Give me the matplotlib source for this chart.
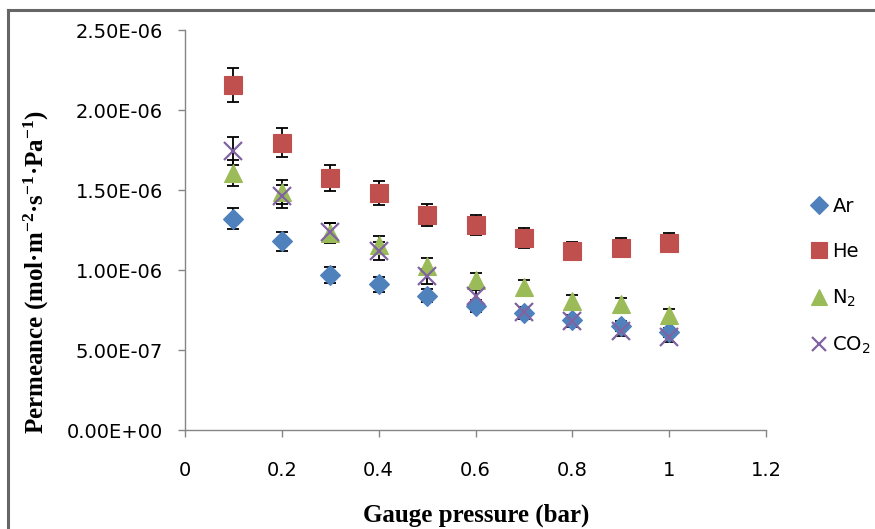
import numpy as np
import matplotlib
matplotlib.use("Agg")
import matplotlib.pyplot as plt
from matplotlib.lines import Line2D
from matplotlib.ticker import FuncFormatter, MultipleLocator

plt.rcParams['font.family'] = ['DejaVu Sans']
plt.rcParams['mathtext.default'] = 'regular'

# gauge pressure (bar) and permeance (mol m-2 s-1 Pa-1)
pressure = [0.1, 0.2, 0.3, 0.4, 0.5, 0.6, 0.7, 0.8, 0.9, 1.0]
ar = [1.32e-6, 1.18e-6, 0.97e-6, 0.91e-6, 0.84e-6, 0.775e-6, 0.73e-6, 0.685e-6, 0.65e-6, 0.61e-6]
he = [2.155e-6, 1.795e-6, 1.575e-6, 1.48e-6, 1.345e-6, 1.28e-6, 1.20e-6, 1.12e-6, 1.14e-6, 1.17e-6]
n2 = [1.605e-6, 1.49e-6, 1.23e-6, 1.155e-6, 1.025e-6, 0.935e-6, 0.895e-6, 0.805e-6, 0.785e-6, 0.72e-6]
co2 = [1.745e-6, 1.46e-6, 1.235e-6, 1.12e-6, 0.96e-6, 0.835e-6, 0.735e-6, 0.68e-6, 0.62e-6, 0.58e-6]
gases = ['Ar', 'He', 'N$_2$', 'CO$_2$']
err_frac = 0.05  # 5 % error bars

styles = [
    dict(marker='D', ms=10.2, color='#4F81BD'),
    dict(marker='s', ms=13.5, color='#C0504D'),
    dict(marker='^', ms=13.5, color='#9BBB59'),
    dict(marker='x', ms=12.5, color='#8064A2', mew=1.6),
]

fig = plt.figure(figsize=(8.75, 5.29), dpi=100)
ax = fig.add_axes([185 / 875, 99 / 529, 581 / 875, 400 / 529])

handles = []
for i, (vals, name, st) in enumerate(zip([ar, he, n2, co2], gases, styles)):
    vals = np.array(vals)
    ax.errorbar(pressure, vals, yerr=vals * err_frac, fmt='none', ecolor='black',
                elinewidth=1.3, capsize=4, capthick=1.3, zorder=2 + i * 0.1)
    ln, = ax.plot(pressure, vals, linestyle='none', marker=st['marker'], ms=st['ms'],
                  color=st['color'], mec=st['color'], mew=st.get('mew', 0.8),
                  zorder=3 + i * 0.1, label=name)
    handles.append(ln)

ax.set_xlim(0, 1.2)
ax.set_ylim(0, 2.5e-6)
ax.xaxis.set_major_locator(MultipleLocator(0.2))
ax.yaxis.set_major_locator(MultipleLocator(0.5e-6))
ax.xaxis.set_major_formatter(FuncFormatter(lambda v, p: f'{v:g}'))
ax.yaxis.set_major_formatter(FuncFormatter(lambda v, p: f'{v:.2E}'))

for side in ['top', 'right']:
    ax.spines[side].set_visible(False)
for side in ['left', 'bottom']:
    ax.spines[side].set_color('#868686')
    ax.spines[side].set_linewidth(1.0)
ax.tick_params(axis='both', direction='out', length=5, width=1.0, color='#868686',
               labelsize=14, labelcolor='black')
ax.tick_params(axis='y', pad=11)
ax.tick_params(axis='x', pad=17)

fig.text(476 / 875, 1 - 515 / 529, 'Gauge pressure (bar)', ha='center', va='center',
         family='Liberation Serif', weight='bold', fontsize=18)
fig.text(36 / 875, 1 - 272 / 529,
         'Permeance (mol\u00b7m$^{-2}$\u00b7s$^{-1}$\u00b7Pa$^{-1}$)',
         ha='center', va='center', rotation=90,
         family='Liberation Serif', weight='bold', fontsize=18)

fig.legend(handles=handles, loc='upper left', bbox_to_anchor=(811 / 875, 1 - 197 / 529),
           frameon=False, fontsize=14, markerscale=0.85, handlelength=0.8,
           handletextpad=0.3, labelspacing=1.35, borderpad=0, borderaxespad=0)

# outer chart frame (top and left edges)
fig.add_artist(Line2D([8 / 875, 8 / 875], [0, 1 - 10 / 529], color='#666666', lw=2.2,
                      transform=fig.transFigure))
fig.add_artist(Line2D([8 / 875, 1], [1 - 10 / 529, 1 - 10 / 529], color='#666666', lw=2.2,
                      transform=fig.transFigure))

fig.savefig('out.png', dpi=100)
